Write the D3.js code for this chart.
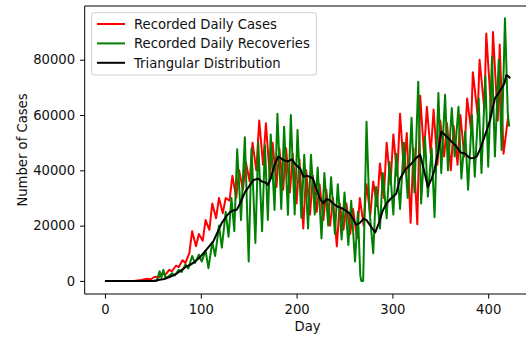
<!DOCTYPE html>
<html>
<head>
<meta charset="utf-8">
<script src="https://cdn.jsdelivr.net/npm/d3@7"></script>
<style>
  html, body { margin: 0; padding: 0; background: #fff; }
  svg { display: block; font-family: "DejaVu Sans", sans-serif; }
</style>
</head>
<body>
<svg id="chart" width="526" height="339"></svg>
<script>
// Daily reported cases (day, count)
const caseDays = [0,30,38,44,48,52,56,60,63,67,70,74,77,81,84,88,91,95,98,102,105,109,112,116,119,123,126,130,133,137,140,144,147,151,154,158,161,165,168,172,175,179,182,186,189,193,196,200,203,207,210,214,217,221,224,228,231,235,238,242,245,249,252,256,259,263,266,270,273,277,280,284,287,291,294,298,301,305,308,312,315,319,322,326,329,333,336,340,343,347,350,354,357,361,364,368,371,375,378,382,384,389,391,396,398,403,405,410,412,416,421];
const caseValues = [0,0,300,800,600,1500,1200,2800,2200,4000,3500,5500,5000,7500,6500,10000,18000,12500,17000,14500,22000,18500,28000,22700,30000,24500,30000,29000,38000,30000,40000,33000,43000,36000,50000,40000,58000,42000,57000,38000,50000,34000,48000,33000,48000,32000,46000,28000,44000,19000,40000,24000,38000,25000,35000,22000,33000,20000,30000,12500,28000,18500,28000,17000,26000,15500,30000,20000,35000,24000,36000,27000,42500,30000,50000,35000,53000,38000,60500,40000,53500,21000,48000,20500,67000,46000,63000,46000,62000,42000,58000,45000,57000,40000,56000,42000,60000,45000,66000,55000,75500,60000,80000,62000,89500,62000,90000,58000,85500,46000,60000];

// Daily reported recoveries (day, count)
const recoveryDays = [0,54,57,59,61,63,66,70,73,77,80,84,87,91,94,98,101,105,108,112,115,119,122,126,129,132,135,138,142,146,150,153,157,160,164,167,170,173,177,180,184,187,191,194,198,201,205,208,212,215,219,222,226,229,233,236,240,243,247,250,254,257,261,264,266.5,267.5,269.5,273,276,280,283,287,290,294,297,301,304,308,312,316,320,323,327,330,334,337,341,344,348,351,355,358,362,365,369,372,376,379,383,386,390,393,397,400,404,407,411,414,417.5,420.5,422];
const recoveryValues = [0,0,3500,1200,4000,1200,1500,2800,2000,4000,3200,6000,4500,9000,6500,9500,7000,11000,4600,14000,9000,20000,12000,25000,16000,30000,18000,47600,22000,52000,7000,48000,13700,50000,18000,49000,22000,53000,25700,60500,26000,55800,23900,60000,24000,54600,22800,45600,19000,45600,24000,41000,15400,39000,20000,37500,17000,35000,15000,32000,13000,29000,7000,25000,2000,0,0,57600,26000,10000,34000,19000,39000,22700,43000,24000,46000,26000,50000,30000,59000,32000,72000,28000,52000,30500,48000,23000,68000,39000,67300,40000,62500,45000,63000,37000,54000,33000,60000,37700,66000,39000,74000,41300,81000,45000,80000,47400,95000,60000,55800];

// Triangular-distribution estimate (day, count)
const trendDays = [0,50,57,62,68,73,78,85,89,94,99,104,110,113,118,122,127,131,134,137.5,141,146,150,155,160,164,168,170,173,177,181,185,188,191,195,198,201,204,207,210,214,217,221,224,228,231,234.5,238,242,247,251,255,259,262,266,270,273,277,282,286,290,294,299,304,308,314,320,325,329,333,337,341,344,348,351,355,360,366,371,376,381,385,388,392,395,398,402,405,407,410,414,417,419,421,423];
const trendValues = [0,0,400,700,1500,2300,3400,5200,5800,7000,8500,10500,13000,14200,18000,21000,23500,25000,25500,25700,28000,32000,34000,36500,37000,35900,35500,34700,37000,42000,45000,44000,43500,43200,44000,42500,41500,40500,37700,38000,37700,37000,33000,30000,28100,29500,29300,28000,27000,26300,25500,24500,22500,20300,21000,22500,22000,20000,17500,21000,25500,28100,30000,31500,37000,40500,42500,44500,45600,40000,34000,37000,40200,47000,54000,52800,51000,49000,46500,46000,44400,44500,45000,48000,51000,54000,58200,63000,66000,67500,69700,71500,74500,74000,73300];

const xTicks = [0, 100, 200, 300, 400];
const yTicks = [0, 20000, 40000, 60000, 80000];

const seriesNames = ["Recorded Daily Cases", "Recorded Daily Recoveries", "Triangular Distribution"];
const seriesColors = ["#ff0000", "#008000", "#000000"];

const plot = { left: 84.7, right: 530.5, top: 6, bottom: 294 };

const x = d3.scaleLinear().domain([-21.15, 444.15]).range([plot.left, plot.right]);
const y = d3.scaleLinear().domain([-4735, 99435]).range([plot.bottom, plot.top]);

const svg = d3.select("#chart");

svg.append("defs").append("clipPath").attr("id", "plotClip")
  .append("rect")
  .attr("x", plot.left).attr("y", plot.top)
  .attr("width", plot.right - plot.left).attr("height", plot.bottom - plot.top);

const zip = (days, vals) => days.map((d, i) => ({ day: d, value: vals[i] }));
const series = [
  zip(caseDays, caseValues),
  zip(recoveryDays, recoveryValues),
  zip(trendDays, trendValues)
];

const line = d3.line().x(d => x(d.day)).y(d => y(d.value));

const lines = svg.append("g").attr("clip-path", "url(#plotClip)");
series.forEach((s, i) => {
  lines.append("path")
    .datum(s)
    .attr("fill", "none")
    .attr("stroke", seriesColors[i])
    .attr("stroke-width", 2)
    .attr("stroke-linejoin", "round")
    .attr("d", line);
});

// Axes
const fontSize = 13.2;
const xAxis = svg.append("g")
  .attr("transform", `translate(0,${plot.bottom})`)
  .call(d3.axisBottom(x).tickValues(xTicks).tickSize(4.6).tickPadding(6).tickSizeOuter(0));
const yAxis = svg.append("g")
  .attr("transform", `translate(${plot.left},0)`)
  .call(d3.axisLeft(y).tickValues(yTicks).tickFormat(d3.format("d")).tickSize(4.6).tickPadding(5).tickSizeOuter(0));

[xAxis, yAxis].forEach(g => {
  g.select(".domain").remove();
  g.selectAll(".tick line").attr("stroke", "#000").attr("stroke-width", 1);
  g.selectAll(".tick text")
    .attr("fill", "#111")
    .style("font-size", fontSize + "px")
    .style("font-family", '"DejaVu Sans", sans-serif');
});

// Spines: left, bottom and top (right edge lies beyond the canvas)
const spines = svg.append("g").attr("stroke", "#000").attr("stroke-width", 1).attr("fill", "none");
spines.append("line").attr("x1", plot.left).attr("x2", plot.left).attr("y1", plot.top).attr("y2", plot.bottom);
spines.append("line").attr("x1", plot.left).attr("x2", plot.right).attr("y1", plot.bottom).attr("y2", plot.bottom);
spines.append("line").attr("x1", plot.left).attr("x2", plot.right).attr("y1", plot.top).attr("y2", plot.top);
spines.append("line").attr("x1", plot.right).attr("x2", plot.right).attr("y1", plot.top).attr("y2", plot.bottom);

// Axis titles
svg.append("text")
  .attr("x", (plot.left + plot.right) / 2)
  .attr("y", 331)
  .attr("text-anchor", "middle")
  .attr("fill", "#111")
  .style("font-size", fontSize + "px")
  .text("Day");

svg.append("text")
  .attr("transform", `translate(26.5,${(plot.top + plot.bottom) / 2}) rotate(-90)`)
  .attr("text-anchor", "middle")
  .attr("fill", "#111")
  .style("font-size", fontSize + "px")
  .text("Number of Cases");

// Legend
const legend = svg.append("g");
legend.append("rect")
  .attr("x", 91.7).attr("y", 12.7)
  .attr("width", 316.3 - 91.7).attr("height", 75 - 12.7)
  .attr("rx", 2.5)
  .attr("fill", "#fff").attr("fill-opacity", 0.8)
  .attr("stroke", "#d0d0d0").attr("stroke-width", 1);

const rowY = [24, 43.4, 62.8];
seriesNames.forEach((name, i) => {
  legend.append("line")
    .attr("x1", 97).attr("x2", 125)
    .attr("y1", rowY[i]).attr("y2", rowY[i])
    .attr("stroke", seriesColors[i]).attr("stroke-width", 2);
  legend.append("text")
    .attr("x", 134).attr("y", rowY[i] + 4.9)
    .attr("fill", "#111")
    .style("font-size", fontSize + "px")
    .text(name);
});
</script>
</body>
</html>
